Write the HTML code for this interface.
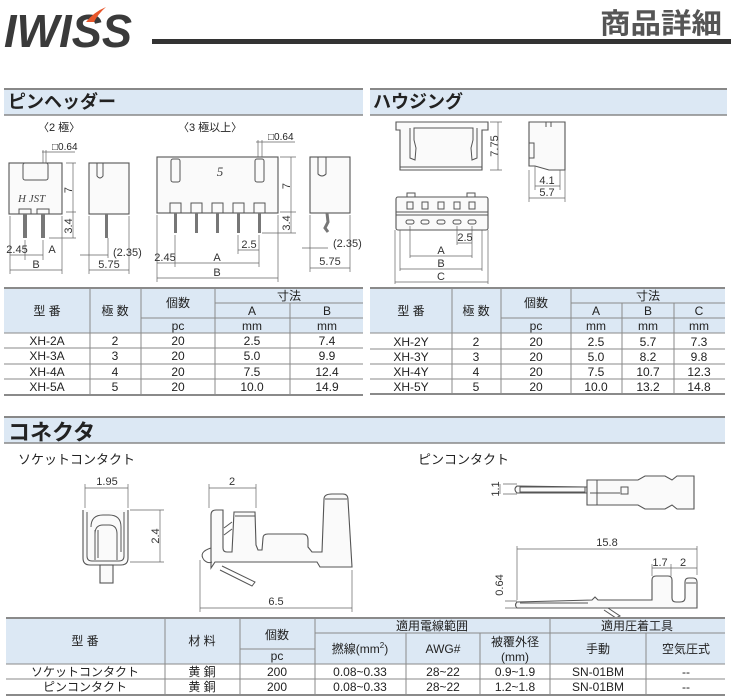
<!DOCTYPE html>
<html><head><meta charset="utf-8"><style>
html,body{margin:0;padding:0;background:#fff;}
svg{display:block;}
text{font-family:"Liberation Sans","Noto Sans CJK JP",sans-serif;fill:#222;}
.t{font-size:12px;text-anchor:middle;}
.d{font-size:11px;text-anchor:middle;fill:#333;}
.ln{stroke:#555;stroke-width:1;fill:none;}
.dm{stroke:#666;stroke-width:0.7;fill:none;}
.sh{stroke:#555;stroke-width:1.1;fill:#fafafa;}
.tl{stroke:#8a8a8a;stroke-width:1;}
</style></head><body>
<svg width="731" height="700" viewBox="0 0 731 700" xmlns="http://www.w3.org/2000/svg">
<!-- header -->
<text x="4" y="47" style="font-size:46px;font-weight:bold;font-style:italic;fill:#3a3a3a" textLength="128" lengthAdjust="spacingAndGlyphs">IWISS</text>
<path d="M86,22 Q94,12 106,7 Q98,14 94,22 Z" fill="#e8562a"/>
<rect x="152" y="39" width="579" height="5" fill="#333"/>
<text x="600" y="33" style="font-size:28px;font-weight:bold;fill:#555" textLength="122" lengthAdjust="spacingAndGlyphs">商品詳細</text>

<!-- section bands -->
<rect x="4" y="89" width="359" height="26" fill="#dce8f4"/>
<line x1="4" y1="89" x2="363" y2="89" stroke="#888" stroke-width="2"/>
<line x1="4" y1="115" x2="363" y2="115" stroke="#888" stroke-width="1.5"/>
<text x="8" y="108" style="font-size:18px;font-weight:bold">ピンヘッダー</text>
<rect x="370" y="89" width="357" height="26" fill="#dce8f4"/>
<line x1="370" y1="89" x2="727" y2="89" stroke="#888" stroke-width="2"/>
<line x1="370" y1="115" x2="727" y2="115" stroke="#888" stroke-width="1.5"/>
<text x="373" y="108" style="font-size:18px;font-weight:bold">ハウジング</text>
<rect x="4" y="417" width="721" height="26" fill="#dce8f4"/>
<line x1="4" y1="417" x2="725" y2="417" stroke="#888" stroke-width="2"/>
<line x1="4" y1="443" x2="725" y2="443" stroke="#888" stroke-width="1.5"/>
<text x="8" y="440" style="font-size:22px;font-weight:bold">コネクタ</text>

<!-- pin header drawings -->
<text x="38" y="131" style="font-size:11px">〈2 極〉</text>
<text x="178" y="131" style="font-size:11px">〈3 極以上〉</text>
<!-- 2 pole front -->
<rect class="sh" x="9" y="163" width="53" height="51"/>
<rect class="ln" x="23" y="163" width="25" height="17" rx="2"/>
<path class="ln" d="M19,214 V209 H31 V214 M37,214 V209 H49 V214"/>
<rect x="23" y="214" width="4" height="24" fill="#777"/>
<rect x="41" y="214" width="4" height="24" fill="#777"/>
<text x="18" y="202" style="font-size:11px;font-style:italic;font-family:'Liberation Serif',serif;fill:#444">H JST</text>
<text x="52" y="150" style="font-size:10px">□0.64</text>
<path class="dm" d="M42,152 H75 M43,150 V163 M46,150 V163 M66,163 H76 M73,163 V212 M66,212 H76 M73,212 V238 M49,238 H76 M25,240 V260 M10,216 V274 M62,216 V274 M43,240 V260 M10,255 H43 M10,270 H62"/>
<text x="72" y="190" class="d" transform="rotate(-90 72 190)">7</text>
<text x="72" y="226" class="d" transform="rotate(-90 72 226)">3.4</text>
<text x="17" y="253" class="d">2.45</text>
<text x="52" y="253" class="d">A</text>
<text x="36" y="268" class="d">B</text>
<!-- 2 pole side -->
<rect class="sh" x="89" y="163" width="40" height="51"/>
<path class="ln" d="M97,163 V176 Q100,180 103,176 V163"/>
<rect x="105" y="214" width="3" height="24" fill="#777"/>
<path class="dm" d="M89,216 V274 M129,216 V274 M89,270 H129 M80,255 H108 M108,238 V258"/>
<text x="113" y="256" class="d" style="text-anchor:start">(2.35)</text>
<text x="109" y="268" class="d">5.75</text>
<!-- 3+ front -->
<rect class="sh" x="157" y="157" width="121" height="56"/>
<rect class="ln" x="171" y="159" width="9" height="23" rx="2"/>
<rect class="ln" x="255" y="159" width="9" height="23" rx="2"/>
<text x="220" y="176" style="font-size:13px;font-style:italic;font-family:'Liberation Serif',serif;fill:#444" text-anchor="middle">5</text>
<path class="ln" d="M170,213 V203 H181 V213 M191,213 V203 H202 V213 M212,213 V203 H223 V213 M233,213 V203 H244 V213 M254,213 V203 H265 V213"/>
<rect x="174" y="213" width="3" height="20" fill="#777"/>
<rect x="195" y="213" width="3" height="20" fill="#777"/>
<rect x="216" y="213" width="3" height="20" fill="#777"/>
<rect x="237" y="213" width="3" height="20" fill="#777"/>
<rect x="258" y="213" width="3" height="20" fill="#777"/>
<text x="268" y="140" style="font-size:10px">□0.64</text>
<path class="dm" d="M256,142 H295 M258,140 V157 M262,140 V157 M280,157 H296 M291,157 V212 M280,212 H296 M291,212 V233 M262,233 H296 M157,215 V282 M278,215 V282 M175,235 V267 M238,235 V254 M259,235 V267 M238,250 H259 M157,263 H259 M157,278 H278"/>
<text x="290" y="186" class="d" transform="rotate(-90 290 186)">7</text>
<text x="290" y="223" class="d" transform="rotate(-90 290 223)">3.4</text>
<text x="249" y="248" class="d">2.5</text>
<text x="165" y="261" class="d">2.45</text>
<text x="217" y="261" class="d">A</text>
<text x="217" y="276" class="d">B</text>
<!-- 3+ side -->
<rect class="sh" x="310" y="157" width="40" height="56"/>
<path class="ln" d="M318,157 V174 Q322,178 326,174 V157"/>
<path d="M327,213 L328,222 L325,228 L328,232" stroke="#777" stroke-width="3" fill="none"/>
<path class="dm" d="M302,248 H328 M310,215 V272 M350,215 V272 M310,268 H350"/>
<text x="333" y="247" class="d" style="text-anchor:start">(2.35)</text>
<text x="330" y="265" class="d">5.75</text>

<!-- housing drawings -->
<path class="sh" d="M396,122 H488 V130 H482 V170 H400 V130 H396 Z"/>
<path class="ln" d="M410,128 V158 L415,160 L416,148 L414,140 V128 H473 V140 L471,148 L472,160 L477,158 V128"/>
<line x1="400" y1="167" x2="482" y2="167" stroke="#555"/>
<path class="dm" d="M490,122 H502 M490,170 H502 M498,122 V170"/>
<text x="498" y="146" class="d" transform="rotate(-90 498 146)">7.75</text>
<path class="sh" d="M529,122 H565 V170 H549 L535,166 H529 Z"/>
<path class="ln" d="M529,143 H534 V158 H529 M546,122 V127 M551,122 V127"/>
<path class="dm" d="M535,166 V190 M560,170 V190 M565,170 V202 M529,170 V202 M535,186 H560 M529,198 H565"/>
<text x="547" y="184" class="d">4.1</text>
<text x="547" y="196" class="d">5.7</text>
<rect class="sh" x="396" y="197" width="92" height="33" rx="2"/>
<path class="ln" d="M407,197 V193 H415 V197 M467,197 V193 H475 V197 M396,212 H488 M396,215 H488"/>
<g fill="none" stroke="#555">
<rect x="407" y="202" width="6" height="7"/><rect x="422" y="202" width="6" height="7"/><rect x="438" y="202" width="6" height="7"/><rect x="454" y="202" width="6" height="7"/><rect x="469" y="202" width="6" height="7"/>
<rect x="406" y="220" width="8" height="4" rx="2"/><rect x="421" y="220" width="8" height="4" rx="2"/><rect x="437" y="220" width="8" height="4" rx="2"/><rect x="453" y="220" width="8" height="4" rx="2"/><rect x="468" y="220" width="8" height="4" rx="2"/>
</g>
<path class="dm" d="M410,226 V258 M457,226 V245 M472,226 V258 M457,243 H472 M410,256 H472 M400,230 V271 M482,230 V271 M400,269 H482 M395,230 V284 M488,230 V284 M395,282 H488"/>
<text x="465" y="241" class="d">2.5</text>
<text x="441" y="254" class="d">A</text>
<text x="441" y="267" class="d">B</text>
<text x="441" y="280" class="d">C</text>

<!-- left table -->
<rect x="4" y="288" width="359" height="45" fill="#dce8f4"/>
<g class="tl">
<line x1="4" y1="288" x2="363" y2="288" stroke-width="2"/>
<line x1="215" y1="303" x2="363" y2="303"/>
<line x1="141" y1="318" x2="363" y2="318"/>
<line x1="4" y1="333" x2="363" y2="333"/>
<line x1="4" y1="348" x2="363" y2="348"/>
<line x1="4" y1="364" x2="363" y2="364"/>
<line x1="4" y1="379" x2="363" y2="379"/>
<line x1="4" y1="395" x2="363" y2="395" stroke-width="2"/>
<line x1="90" y1="288" x2="90" y2="395"/>
<line x1="141" y1="288" x2="141" y2="395"/>
<line x1="215" y1="288" x2="215" y2="395"/>
<line x1="290" y1="303" x2="290" y2="395"/>
</g>
<text class="t" x="47" y="315">型 番</text><text class="t" x="115" y="315">極 数</text><text class="t" x="178" y="307">個数</text>
<text class="t" x="289" y="300">寸法</text><text class="t" x="252" y="315">A</text><text class="t" x="327" y="315">B</text>
<text class="t" x="178" y="330">pc</text><text class="t" x="252" y="330">mm</text><text class="t" x="327" y="330">mm</text>
<text class="t" x="47" y="345">XH-2A</text><text class="t" x="115" y="345">2</text><text class="t" x="178" y="345">20</text><text class="t" x="252" y="345">2.5</text><text class="t" x="327" y="345">7.4</text>
<text class="t" x="47" y="360">XH-3A</text><text class="t" x="115" y="360">3</text><text class="t" x="178" y="360">20</text><text class="t" x="252" y="360">5.0</text><text class="t" x="327" y="360">9.9</text>
<text class="t" x="47" y="376">XH-4A</text><text class="t" x="115" y="376">4</text><text class="t" x="178" y="376">20</text><text class="t" x="252" y="376">7.5</text><text class="t" x="327" y="376">12.4</text>
<text class="t" x="47" y="391">XH-5A</text><text class="t" x="115" y="391">5</text><text class="t" x="178" y="391">20</text><text class="t" x="252" y="391">10.0</text><text class="t" x="327" y="391">14.9</text>

<!-- right table -->
<rect x="370" y="288" width="355" height="45" fill="#dce8f4"/>
<g class="tl">
<line x1="370" y1="288" x2="725" y2="288" stroke-width="2"/>
<line x1="571" y1="303" x2="725" y2="303"/>
<line x1="501" y1="318" x2="725" y2="318"/>
<line x1="370" y1="333" x2="725" y2="333"/>
<line x1="370" y1="349" x2="725" y2="349"/>
<line x1="370" y1="364" x2="725" y2="364"/>
<line x1="370" y1="379" x2="725" y2="379"/>
<line x1="370" y1="394" x2="725" y2="394" stroke-width="2"/>
<line x1="452" y1="288" x2="452" y2="394"/>
<line x1="501" y1="288" x2="501" y2="394"/>
<line x1="571" y1="288" x2="571" y2="394"/>
<line x1="622" y1="303" x2="622" y2="394"/>
<line x1="674" y1="303" x2="674" y2="394"/>
</g>
<text class="t" x="411" y="315">型 番</text><text class="t" x="476" y="315">極 数</text><text class="t" x="536" y="307">個数</text>
<text class="t" x="648" y="300">寸法</text><text class="t" x="596" y="315">A</text><text class="t" x="648" y="315">B</text><text class="t" x="699" y="315">C</text>
<text class="t" x="536" y="330">pc</text><text class="t" x="596" y="330">mm</text><text class="t" x="648" y="330">mm</text><text class="t" x="699" y="330">mm</text>
<text class="t" x="411" y="346">XH-2Y</text><text class="t" x="476" y="346">2</text><text class="t" x="536" y="346">20</text><text class="t" x="596" y="346">2.5</text><text class="t" x="648" y="346">5.7</text><text class="t" x="699" y="346">7.3</text>
<text class="t" x="411" y="361">XH-3Y</text><text class="t" x="476" y="361">3</text><text class="t" x="536" y="361">20</text><text class="t" x="596" y="361">5.0</text><text class="t" x="648" y="361">8.2</text><text class="t" x="699" y="361">9.8</text>
<text class="t" x="411" y="376">XH-4Y</text><text class="t" x="476" y="376">4</text><text class="t" x="536" y="376">20</text><text class="t" x="596" y="376">7.5</text><text class="t" x="648" y="376">10.7</text><text class="t" x="699" y="376">12.3</text>
<text class="t" x="411" y="391">XH-5Y</text><text class="t" x="476" y="391">5</text><text class="t" x="536" y="391">20</text><text class="t" x="596" y="391">10.0</text><text class="t" x="648" y="391">13.2</text><text class="t" x="699" y="391">14.8</text>

<!-- connector drawings -->
<text x="18" y="464" style="font-size:13px">ソケットコンタクト</text>
<text x="418" y="464" style="font-size:13px">ピンコンタクト</text>
<!-- socket front -->
<path class="sh" d="M83,510 V558 Q83,565 90,565 H121 Q128,565 128,558 V510"/>
<path class="ln" d="M87,512 V556 Q87,561 92,561 H119 Q124,561 124,556 V512 M91,527 Q91,515 103,515 H109 Q121,515 121,527 V552 M95,534 Q95,525 103,525 H109 Q117,525 117,534 V560 M95,530 V560 M98,530 V558"/>
<rect class="sh" x="100" y="565" width="13" height="18"/>
<path class="dm" d="M85,508 V484 M128,508 V484 M85,488 H128 M130,510 H164 M130,562 H164 M160,510 V562"/>
<text x="107" y="485" class="d">1.95</text>
<text x="159" y="536" class="d" transform="rotate(-90 159 536)">2.4</text>
<!-- socket side -->
<path class="sh" d="M211,568 L211,515 Q211,510 216,510 L223,510 L223,548 Q223,552 227,552 L232,552 L234,512 L255,512 L256,545 L258,550 L262,550 L263,538 Q263,534 268,534 L303,534 Q308,534 308,540 L308,547 L312,552 L322,552 L324,499 Q324,494 332,494 L343,494 Q348,494 348,500 L352,567 L320,567 L317,562 L215,562 Z"/>
<path class="ln" d="M235,516 H255 M325,499 H347 M224,528 L232,522 M224,535 L232,529"/>
<path class="ln" d="M211,548 Q198,552 204,560 Q208,564 212,562"/>
<path class="ln" d="M222,566 L255,582 L252,586 L220,570"/>
<path class="dm" d="M209,508 V484 M256,508 V484 M209,488 H256 M200,560 V612 M352,570 V612 M200,608 H352"/>
<text x="232" y="485" class="d">2</text>
<text x="276" y="605" class="d">6.5</text>
<!-- pin contact top -->
<path class="sh" d="M517,486 Q513,489 517,493 H587 V487 Z"/>
<path class="ln" d="M520,487 H585 V492 H520 Z"/>
<path class="sh" d="M587,480 H638 L645,476 H665 L672,480 L677,476 H694 V509 H677 L672,505 L665,509 H645 L638,505 H587 Z"/>
<rect class="ln" x="621" y="487" width="7" height="7"/>
<path class="ln" d="M597,480 V505 M590,493 H620"/>
<path class="dm" d="M503,484 H517 M503,494 H517 M500,484 V494"/>
<text x="499" y="489" class="d" transform="rotate(-90 499 489)">1.1</text>
<!-- pin contact side -->
<path class="sh" d="M517,602 Q514,605 517,608 H697 V582 Q697,578 693,578 H689 Q685,578 685,582 V598 Q685,602 680,602 H676 Q672,602 672,598 V580 Q672,576 668,576 H656 Q652,576 652,580 V600 H598 L595,597 L592,600 Z"/>
<path class="ln" d="M520,603 H588 M686,583 H696"/>
<path class="ln" d="M608,608 L620,616 L616,618 L604,610"/>
<path class="dm" d="M517,600 V546 M697,575 V546 M517,549 H697 M652,576 V564 M671,576 V564 M697,564 H697 M652,568 H697 M697,564 V575 M505,601 H517 M505,608 H517"/>
<text x="607" y="546" class="d">15.8</text>
<text x="660" y="566" class="d">1.7</text>
<text x="683" y="566" class="d">2</text>
<text x="503" y="585" class="d" transform="rotate(-90 503 585)">0.64</text>

<!-- bottom table -->
<rect x="6" y="618" width="719" height="46" fill="#dce8f4"/>
<g class="tl">
<line x1="6" y1="618" x2="725" y2="618" stroke-width="2"/>
<line x1="315" y1="633" x2="725" y2="633"/>
<line x1="240" y1="649" x2="315" y2="649"/>
<line x1="6" y1="664" x2="725" y2="664"/>
<line x1="6" y1="679" x2="725" y2="679"/>
<line x1="6" y1="695" x2="725" y2="695" stroke-width="2"/>
<line x1="165" y1="618" x2="165" y2="695"/>
<line x1="240" y1="618" x2="240" y2="695"/>
<line x1="315" y1="618" x2="315" y2="695"/>
<line x1="550" y1="618" x2="550" y2="695"/>
<line x1="406" y1="633" x2="406" y2="695"/>
<line x1="480" y1="633" x2="480" y2="695"/>
<line x1="646" y1="633" x2="646" y2="695"/>
</g>
<text class="t" x="85" y="645">型 番</text><text class="t" x="202" y="645">材 料</text><text class="t" x="277" y="639">個数</text>
<text class="t" x="432" y="630">適用電線範囲</text><text class="t" x="637" y="630">適用圧着工具</text>
<text class="t" x="277" y="660">pc</text>
<text class="t" x="360" y="653">撚線(mm<tspan dy="-5" style="font-size:8px">2</tspan><tspan dy="5">)</tspan></text>
<text class="t" x="443" y="653">AWG#</text>
<text class="t" x="515" y="646">被覆外径</text><text class="t" x="515" y="661">(mm)</text>
<text class="t" x="598" y="653">手動</text><text class="t" x="686" y="653">空気圧式</text>
<text class="t" x="85" y="676">ソケットコンタクト</text><text class="t" x="202" y="676">黄 銅</text><text class="t" x="277" y="676">200</text><text class="t" x="360" y="676">0.08~0.33</text><text class="t" x="443" y="676">28~22</text><text class="t" x="515" y="676">0.9~1.9</text><text class="t" x="598" y="676">SN-01BM</text><text class="t" x="686" y="676">--</text>
<text class="t" x="85" y="691">ピンコンタクト</text><text class="t" x="202" y="691">黄 銅</text><text class="t" x="277" y="691">200</text><text class="t" x="360" y="691">0.08~0.33</text><text class="t" x="443" y="691">28~22</text><text class="t" x="515" y="691">1.2~1.8</text><text class="t" x="598" y="691">SN-01BM</text><text class="t" x="686" y="691">--</text>
</svg>
</body></html>
